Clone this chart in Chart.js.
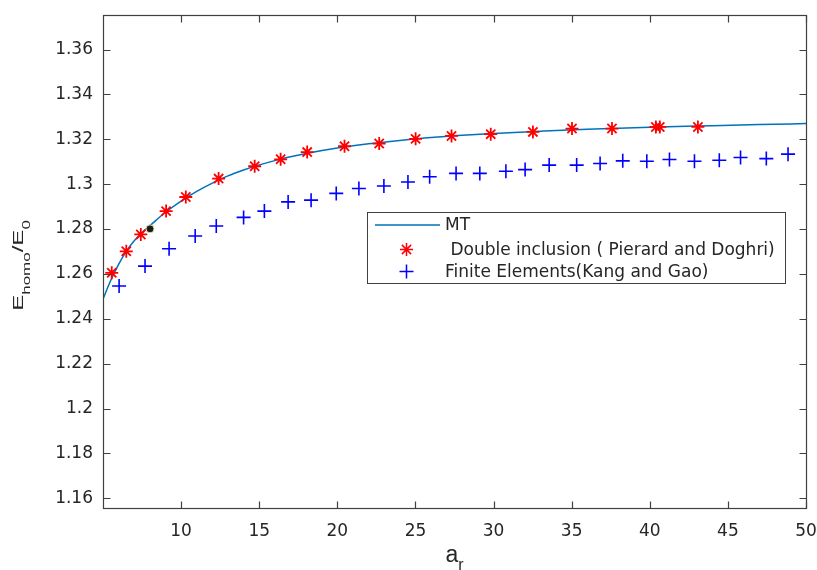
<!DOCTYPE html>
<html>
<head>
<meta charset="utf-8">
<script src="https://cdn.jsdelivr.net/npm/chart.js@4.4.1/dist/chart.umd.min.js"></script>
<style>
  html, body { margin: 0; padding: 0; background: #fff; }
  #wrap { width: 817px; height: 570px; position: relative; }
</style>
</head>
<body>
<div id="wrap"><canvas id="chart"></canvas></div>
<script>
// axis ticks
const xTicks = [10, 15, 20, 25, 30, 35, 40, 45, 50];
const yTicks = [1.16, 1.18, 1.2, 1.22, 1.24, 1.26, 1.28, 1.3, 1.32, 1.34, 1.36];
const yTickLabels = ['1.16', '1.18', '1.2', '1.22', '1.24', '1.26', '1.28', '1.3', '1.32', '1.34', '1.36'];

const seriesNames = ['MT', ' Double inclusion ( Pierard and Doghri)', 'Finite Elements(Kang and Gao)'];

// MT curve
const mtX = [5, 5.5, 6, 6.5, 7, 7.5, 8, 9, 10, 11, 12, 13, 14, 15, 16, 17, 18, 20, 22, 24, 26, 28, 30, 33, 36, 40, 44, 47, 50];
const mtY = [1.2488, 1.2572, 1.2643, 1.2702, 1.2748, 1.2785, 1.2815, 1.2875, 1.2925, 1.2968, 1.3005, 1.3037, 1.3063, 1.3086,
             1.3105, 1.3122, 1.3137, 1.3161, 1.3180, 1.3195, 1.3208, 1.3218, 1.3226, 1.3236, 1.3245, 1.3254, 1.3261, 1.3266, 1.3270];

// Double inclusion (Pierard and Doghri)
const diX = [5.56, 6.49, 7.42, 9.04, 10.30, 12.40, 14.71, 16.37, 18.07, 20.46, 22.68, 25.01, 27.31, 29.82, 32.52, 35.02, 37.58, 40.39, 40.64, 43.08];
const diY = [1.2605, 1.2701, 1.2776, 1.2880, 1.2943, 1.3025, 1.3080, 1.3111, 1.3143, 1.3169, 1.3181, 1.3202, 1.3215, 1.3223, 1.3233, 1.3248, 1.3248, 1.3255, 1.3255, 1.3255];

// Finite elements (Kang and Gao)
const feX = [6.03, 7.69, 9.23, 10.90, 12.25, 14.00, 15.33, 16.85, 18.32, 19.93, 21.38, 22.98, 24.52, 25.91, 27.60, 29.12, 30.79, 32.02, 33.56, 35.32, 36.82, 38.27, 39.81, 41.26, 42.86, 44.45, 45.81, 47.46, 48.85];
const feY = [1.2546, 1.2635, 1.2712, 1.2769, 1.2814, 1.2852, 1.2880, 1.2921, 1.2929, 1.2959, 1.2981, 1.2992, 1.3010, 1.3033, 1.3048, 1.3048, 1.3058, 1.3065, 1.3085, 1.3085, 1.3092, 1.3104, 1.3102, 1.3110, 1.3102, 1.3107, 1.3119, 1.3114, 1.3134];

// data tip marker
const tipX = [8.01];
const tipY = [1.2801];

const toPoints = (xs, ys) => xs.map((x, i) => ({ x: x, y: ys[i] }));

const axisColor = '#404040';
const tickFont = { family: 'DejaVu Sans', size: 17 };

// box + inward ticks on all four sides (matlab style)
const framePlugin = {
  id: 'framePlugin',
  afterDraw: (chart) => {
    const { ctx, chartArea: a, scales: { x, y } } = chart;
    const L = Math.round(a.left) + 0.5, R = Math.round(a.right) + 0.5;
    const T = Math.round(a.top) + 0.5, B = Math.round(a.bottom) + 0.5;
    ctx.save();
    ctx.strokeStyle = axisColor;
    ctx.lineWidth = 1.2;
    ctx.strokeRect(L, T, R - L, B - T);
    ctx.beginPath();
    xTicks.forEach((v) => {
      const px = Math.round(x.getPixelForValue(v)) + 0.5;
      ctx.moveTo(px, B); ctx.lineTo(px, B - 7);
      ctx.moveTo(px, T); ctx.lineTo(px, T + 7);
    });
    yTicks.forEach((v) => {
      const py = Math.round(y.getPixelForValue(v)) + 0.5;
      ctx.moveTo(L, py); ctx.lineTo(L + 7, py);
      ctx.moveTo(R, py); ctx.lineTo(R - 7, py);
    });
    ctx.stroke();
    ctx.restore();
  },
};

// legend box inside the axes
const legendPlugin = {
  id: 'legendPlugin',
  afterDraw: (chart) => {
    const { ctx } = chart;
    const ds = chart.data.datasets;
    ctx.save();
    ctx.fillStyle = '#fff';
    ctx.fillRect(367.5, 212.5, 418, 71);
    ctx.strokeStyle = axisColor;
    ctx.lineWidth = 1;
    ctx.strokeRect(367.5, 212.5, 418, 71);

    const rows = [225, 249.5, 271.5];
    // line sample
    ctx.strokeStyle = ds[0].borderColor;
    ctx.lineWidth = 1.5;
    ctx.beginPath();
    ctx.moveTo(375, rows[0]); ctx.lineTo(440, rows[0]);
    ctx.stroke();
    // markers
    [1, 2].forEach((i) => {
      ctx.strokeStyle = ds[i].borderColor;
      ctx.fillStyle = ds[i].borderColor;
      Chart.helpers.drawPoint(ctx, {
        pointStyle: ds[i].pointStyle,
        radius: ds[i].pointRadius,
        borderWidth: ds[i].borderWidth,
        rotation: 0,
      }, 406.5, rows[i]);
    });
    ctx.fillStyle = '#262626';
    ctx.font = '17px "DejaVu Sans"';
    ctx.textBaseline = 'middle';
    ctx.textAlign = 'left';
    seriesNames.forEach((name, i) => {
      ctx.fillText(name, 445, rows[i] + 1);
    });
    ctx.restore();
  },
};

// axis titles with subscripts
const titlePlugin = {
  id: 'titlePlugin',
  afterDraw: (chart) => {
    const { ctx, chartArea: a } = chart;
    ctx.save();
    ctx.fillStyle = '#262626';
    ctx.textBaseline = 'alphabetic';
    ctx.textAlign = 'left';

    // x title: a_r
    const big = '23px "Liberation Sans"', small = '16px "Liberation Sans"';
    ctx.font = big; const wa = ctx.measureText('a').width;
    ctx.font = small; const wr = ctx.measureText('r').width;
    const cx = (a.left + a.right) / 2;
    let sx = cx - (wa + wr) / 2;
    ctx.font = big; ctx.fillText('a', sx, 562);
    ctx.font = small; ctx.fillText('r', sx + wa, 570);

    // y title: E_homo/E_0 (rotated)
    const parts = [
      ['E', '24px "Liberation Sans"', 0],
      ['homo', '17px "Liberation Sans"', 7],
      ['/E', '24px "Liberation Sans"', 0],
      ['0', '17px "Liberation Sans"', 7],
    ];
    let total = 0;
    parts.forEach((p) => { ctx.font = p[1]; total += ctx.measureText(p[0]).width; });
    const cy = (a.top + a.bottom) / 2 + 4;
    ctx.translate(23, cy);
    ctx.rotate(-Math.PI / 2);
    ctx.scale(1, 0.62);
    let px = -total / 2;
    parts.forEach((p) => {
      ctx.font = p[1];
      ctx.fillText(p[0], px, p[2] / 0.62);
      px += ctx.measureText(p[0]).width;
    });
    ctx.restore();
  },
};

new Chart(document.getElementById('chart'), {
  type: 'scatter',
  data: {
    datasets: [
      {
        label: seriesNames[0],
        data: toPoints(mtX, mtY),
        showLine: true,
        borderColor: '#0072BD',
        borderWidth: 1.5,
        pointRadius: 0,
        cubicInterpolationMode: 'monotone',
        order: 3,
      },
      {
        label: seriesNames[1],
        data: toPoints(diX, diY),
        pointStyle: 'star',
        pointRadius: 6.5,
        borderColor: '#ff0000',
        backgroundColor: '#ff0000',
        borderWidth: 1.8,
        order: 2,
      },
      {
        label: seriesNames[2],
        data: toPoints(feX, feY),
        pointStyle: 'cross',
        pointRadius: 7,
        borderColor: '#0000ff',
        backgroundColor: '#0000ff',
        borderWidth: 1.6,
        order: 1,
      },
      {
        label: 'tip',
        data: toPoints(tipX, tipY),
        pointStyle: 'circle',
        pointRadius: 4,
        backgroundColor: '#1a1a1a',
        borderColor: '#e6e0a8',
        borderWidth: 1,
        order: 0,
      },
    ],
  },
  options: {
    responsive: true,
    maintainAspectRatio: false,
    animation: false,
    layout: { padding: { top: 15, right: 11, left: 0, bottom: 0 } },
    scales: {
      x: {
        type: 'linear',
        min: 5,
        max: 50,
        afterBuildTicks: (scale) => { scale.ticks = xTicks.map((v) => ({ value: v })); },
        afterFit: (scale) => {
          scale.height = 62;
          scale.paddingLeft = 0;
          scale.paddingRight = 0;
        },
        grid: { display: false, drawTicks: false },
        border: { display: false },
        ticks: {
          font: tickFont,
          color: '#262626',
          padding: 13,
          maxRotation: 0,
          autoSkip: false,
          callback: (v) => String(v),
        },
      },
      y: {
        type: 'linear',
        min: 1.1557,
        max: 1.3754,
        afterBuildTicks: (scale) => { scale.ticks = yTicks.map((v) => ({ value: v })); },
        afterFit: (scale) => {
          scale.width = 103;
          scale.paddingTop = 0;
          scale.paddingBottom = 0;
        },
        grid: { display: false, drawTicks: false },
        border: { display: false },
        ticks: {
          font: tickFont,
          color: '#262626',
          padding: 10,
          autoSkip: false,
          callback: (v) => {
            const i = yTicks.findIndex((t) => Math.abs(t - v) < 1e-9);
            return i >= 0 ? yTickLabels[i] : '';
          },
        },
      },
    },
    plugins: {
      legend: { display: false },
      tooltip: { enabled: false },
    },
  },
  plugins: [framePlugin, legendPlugin, titlePlugin],
});
</script>
</body>
</html>
